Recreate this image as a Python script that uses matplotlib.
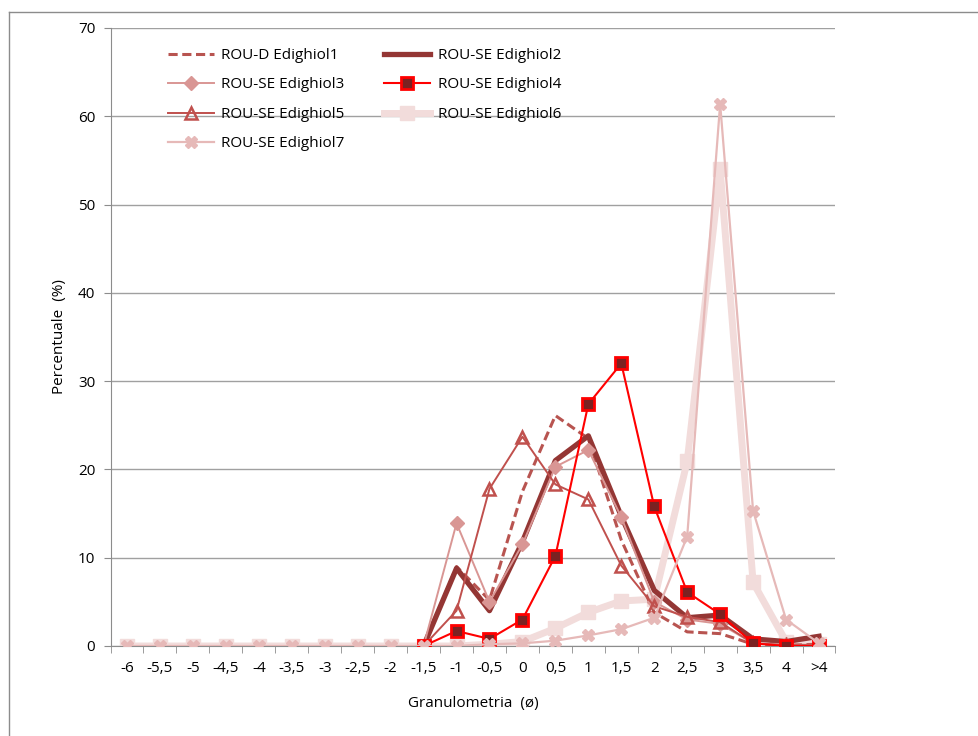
import matplotlib.pyplot as plt
import numpy as np
from matplotlib.lines import Line2D

plt.rcParams['font.family'] = ['Open Sans', 'DejaVu Sans']

nan = np.nan
categories = ['-6', '-5,5', '-5', '-4,5', '-4', '-3,5', '-3', '-2,5', '-2', '-1,5',
              '-1', '-0,5', '0', '0,5', '1', '1,5', '2', '2,5', '3', '3,5', '4', '>4']

pre = [nan] * 9
edighiol1 = pre + [0, 9.0, 5.2, 17.5, 26.1, 23.5, 12.0, 3.8, 1.6, 1.4, 0.2, 0.1, 0.2]
edighiol2 = pre + [0, 8.8, 4.0, 11.8, 21.0, 23.8, 14.7, 6.3, 3.2, 3.5, 0.8, 0.5, 1.1]
edighiol3 = pre + [0, 13.9, 5.0, 11.5, 20.3, 22.2, 14.6, 5.0, 3.0, 2.5, 0.3, 0.2, 0.1]
edighiol4 = pre + [0, 1.7, 0.8, 3.0, 10.2, 27.4, 32.0, 15.8, 6.1, 3.6, 0.3, 0.0, 0.0]
edighiol5 = pre + [0, 4.0, 17.8, 23.7, 18.3, 16.6, 9.1, 4.5, 3.3, 2.7, 0.3, 0.1, 0.1]
edighiol6 = [0] * 11 + [0.2, 0.5, 2.0, 3.8, 5.1, 5.3, 20.9, 54.0, 7.2, 0.5, 0.2]
edighiol7 = [0] * 11 + [0.2, 0.3, 0.6, 1.2, 1.9, 3.2, 12.4, 61.4, 15.3, 3.0, 0.3]

x = np.arange(len(categories))

fig = plt.figure(figsize=(9.79, 7.36), dpi=100)
ax = fig.add_axes([0.1129, 0.1223, 0.7405, 0.8397])

# figure frame (top and left edges visible in the original)
fig.add_artist(Line2D([9 / 979, 9 / 979], [0, 1 - 12 / 736], color='#8c8c8c', lw=1))
fig.add_artist(Line2D([9 / 979, 1], [1 - 12 / 736, 1 - 12 / 736], color='#8c8c8c', lw=1))

ax.plot(x, edighiol6, color='#f2dcdb', lw=5, marker='s', ms=10, zorder=2,
        label='ROU-SE Edighiol6')
ax.plot(x, edighiol1, color='#b85450', lw=2.2, ls=(0, (3, 1.5)), zorder=3,
        label='ROU-D Edighiol1')
ax.plot(x, edighiol2, color='#943634', lw=3.8, zorder=3, label='ROU-SE Edighiol2')
ax.plot(x, edighiol3, color='#d99694', lw=1.4, marker='D', ms=7, zorder=4,
        label='ROU-SE Edighiol3')
ax.plot(x, edighiol5, color='#c0504d', lw=1.4, marker='^', ms=8, mfc='none', mew=1.8,
        zorder=4, label='ROU-SE Edighiol5')
ax.plot(x, edighiol4, color='#ff0000', lw=1.5, marker='s', ms=8, mfc='#7b2222',
        mec='#ff0000', mew=2, zorder=5, label='ROU-SE Edighiol4')
ax.plot(x, edighiol7, color='#e6b9b8', lw=1.6, marker='X', ms=8, zorder=6,
        label='ROU-SE Edighiol7')

ax.set_xlim(-0.5, len(categories) - 0.5)
ax.set_ylim(0, 70)
ax.set_yticks(range(0, 71, 10))
ax.set_xticks(x)
ax.set_xticklabels(categories)
ax.set_xticks(np.arange(-0.5, len(categories), 1), minor=True)
ax.tick_params(axis='x', which='major', length=0, pad=11, labelsize=11, colors='black')
ax.tick_params(axis='x', which='minor', length=5, color='#8c8c8c', direction='out')
ax.tick_params(axis='y', length=5, color='#8c8c8c', labelsize=11, pad=6)
ax.grid(axis='y', color='#a0a0a0', lw=1)
ax.set_axisbelow(True)
for s in ['top', 'right']:
    ax.spines[s].set_visible(False)
for s in ['left', 'bottom']:
    ax.spines[s].set_color('#8c8c8c')

ax.set_xlabel('Granulometria  (ø)', fontsize=11, labelpad=14)
ax.set_ylabel('Percentuale  (%)', fontsize=11, labelpad=8)

handles, labels = ax.get_legend_handles_labels()
order = ['ROU-D Edighiol1', 'ROU-SE Edighiol2', 'ROU-SE Edighiol3', 'ROU-SE Edighiol4',
         'ROU-SE Edighiol5', 'ROU-SE Edighiol6', 'ROU-SE Edighiol7']
# row-major order for a 2-column legend
ordered = order[0::2] + order[1::2]
hh = [handles[labels.index(l)] for l in ordered]
ax.legend(hh, ordered, ncol=2, frameon=False, loc='upper left',
          bbox_to_anchor=(0.06, 0.99), fontsize=11, handlelength=3,
          handletextpad=0.5, columnspacing=2.6, labelspacing=0.95)

fig.savefig('out.png', dpi=100)
